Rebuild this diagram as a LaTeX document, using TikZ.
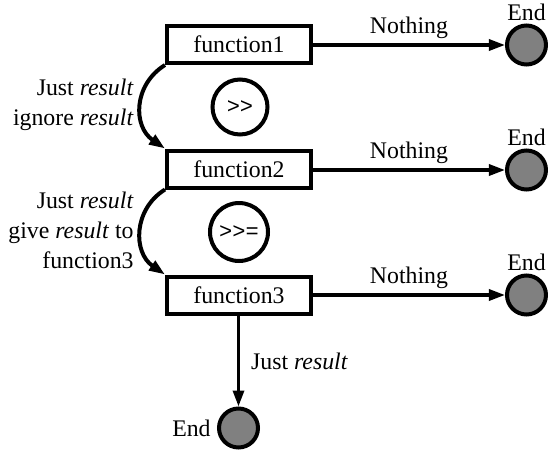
\documentclass[tikz,border=0pt]{standalone}
\usepackage{fontspec}
\setmainfont{Liberation Serif}
\newfontfamily\opfont{Liberation Mono}
\usetikzlibrary{arrows.meta}
\begin{document}
\begin{tikzpicture}[x=0.5pt,y=-0.5pt,
  every node/.style={font=\fontsize{11.9}{15}\selectfont},
  fnbox/.style={draw,line width=2pt,minimum width=72pt,minimum height=18.5pt,inner sep=0pt},
  opcirc/.style={draw,circle,line width=2pt,inner sep=0pt,font=\opfont\fontsize{11}{13}\selectfont},
  endnode/.style={draw,circle,line width=2pt,fill=black!50,minimum size=19.5pt,inner sep=0pt},
  flow/.style={line width=1.6pt,-{Triangle[length=8pt,width=5.5pt]}},
  loop/.style={line width=2pt,-{Triangle[length=8pt,width=5.5pt]}},
  lbl/.style={align=right,anchor=east,inner sep=0pt}]
\useasboundingbox (0,0) rectangle (548,451);

% the three chained functions
\node[fnbox] (f1) at (239,44.5) {function1};
\node[fnbox] (f2) at (239,169) {function2};
\node[fnbox] (f3) at (239,295) {function3};

% bind operators
\node[opcirc,minimum size=27.5pt] (op1) at (240,107) {>>};
\node[opcirc,minimum size=29pt] (op2) at (239,232) {>>=};

% terminal states
\node[endnode,label={[inner sep=1pt]above:End}] (e1) at (526.5,45) {};
\node[endnode,label={[inner sep=1pt]above:End}] (e2) at (526.5,170) {};
\node[endnode,label={[inner sep=1pt]above:End}] (e3) at (526.5,295) {};
\node[endnode,label={[inner sep=3pt]left:End}] (e4) at (238.5,428) {};

% failure branches
\draw[flow] (f1.east |- e1) -- node[above,inner sep=2.5pt] {Nothing} (e1);
\draw[flow] (f2.east |- e2) -- node[above,inner sep=2.5pt] {Nothing} (e2);
\draw[flow] (f3.east |- e3) -- node[above,inner sep=2.5pt] {Nothing} (e3);

% success paths
\draw[loop] (f1.south west) .. controls +(-32,20) and +(-32,-22) .. (f2.north west);
\draw[loop] (f2.south west) .. controls +(-32,20) and +(-32,-22) .. (f3.north west);
\draw[flow] (f3.south -| e4) -- node[right,inner sep=0pt,xshift=5.5pt] {Just \textit{result}} (e4);

% loop annotations
\node[lbl] (t1) at (134,105) {Just \textit{result}\\ignore \textit{result}};
\node[lbl] (t2) at (134,230) {Just \textit{result}\\give \textit{result} to\\function3};
\end{tikzpicture}
\end{document}
